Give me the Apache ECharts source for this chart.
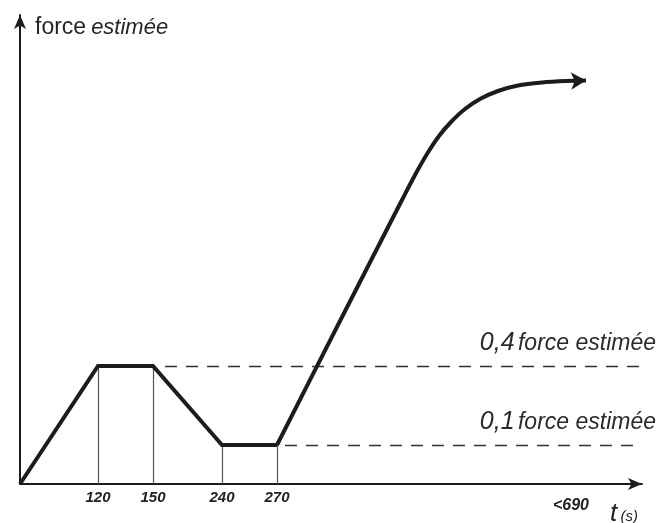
<!DOCTYPE html>
<html>
<head>
<meta charset="utf-8">
<script src="https://cdn.jsdelivr.net/npm/echarts@6/dist/echarts.min.js"></script>
<style>
  html, body { margin: 0; background: #fff; }
  #chart { width: 656px; height: 523px; }
</style>
</head>
<body>
<div id="chart"></div>
<script>
// schematic diagram: both axes are in the figure's own units, not seconds / newtons
const tickTimes = ['120', '150', '240', '270'];
const tickAt = [78, 133, 202, 257];
const endTime = '<690';
const endAt = 551;

const levelText = ['0,4', '0,1'];
const levelAt = [118, 39];
const levelFrom = [145, 265];

// trapezoid
const rampX = [0, 78, 133, 202, 257];
const rampY = [0, 118, 118, 39, 39];
// straight climb then the bend up to the arrow
const curveX = [257, 320, 383, 395, 407, 419, 431, 445, 460, 478, 498, 522, 546, 566];
const curveY = [39, 163, 286, 309, 330, 348, 362, 375, 385, 393, 398.5, 401.5, 403, 403.5];

const FONT = "'Liberation Sans', Arial, sans-serif";
const INK = '#1c1c1c';

const zip = (xs, ys) => xs.map((x, i) => [x, ys[i]]);

const curveData = zip(curveX, curveY).map((p, i, arr) =>
  i === arr.length - 1
    ? { value: p, symbol: 'arrow', symbolSize: [13, 15], symbolRotate: -88 }
    : { value: p, symbol: 'none' }
);

const drops = tickAt.map((x) => [
  { coord: [x, 0] },
  { coord: [x, rampY[rampX.indexOf(x)]] },
]);

const levels = levelAt.map((y, i) => [
  { coord: [levelFrom[i], y] },
  { coord: [622, y] },
]);

const chart = echarts.init(document.getElementById('chart'));

chart.setOption({
  animation: false,
  backgroundColor: '#fff',
  textStyle: { fontFamily: FONT },
  title: {
    left: 30,
    top: 11,
    text: '{a|force} {b|estimée}',
    textStyle: {
      fontWeight: 'normal',
      rich: {
        a: { fontFamily: FONT, fontSize: 23, fontWeight: 'normal', color: '#262626' },
        b: { fontFamily: FONT, fontSize: 22, fontWeight: 'normal', fontStyle: 'italic', color: '#262626' },
      },
    },
  },
  grid: { left: 20, right: 14, top: 15, bottom: 39, outerBoundsMode: 'none', containLabel: false },
  xAxis: {
    type: 'value',
    min: 0,
    max: 622,
    splitLine: { show: false },
    axisTick: { show: false },
    axisLine: {
      onZero: false,
      symbol: ['none', 'arrow'],
      symbolSize: [9, 14],
      lineStyle: { color: INK, width: 2 },
    },
    axisLabel: {
      customValues: tickAt.concat([endAt]),
      margin: 6,
      color: '#222',
      fontSize: 15,
      fontStyle: 'italic',
      fontWeight: 'bold',
      formatter: (v) => {
        const i = tickAt.indexOf(v);
        return i >= 0 ? tickTimes[i] : '{e|' + endTime + '}';
      },
      rich: {
        e: { fontSize: 16, fontStyle: 'italic', fontWeight: 'bold', color: '#222', lineHeight: 31 },
      },
    },
    name: '{t|t} {s|(s)}',
    nameLocation: 'end',
    nameGap: -4,
    nameTextStyle: {
      align: 'right',
      verticalAlign: 'top',
      padding: [17, 0, 0, 0],
      rich: {
        t: { fontSize: 26, fontStyle: 'italic', color: '#222' },
        s: { fontSize: 15, fontStyle: 'italic', color: '#222', padding: [6, 0, 0, 0] },
      },
    },
  },
  yAxis: {
    type: 'value',
    min: 0,
    max: 469,
    splitLine: { show: false },
    axisTick: { show: false },
    axisLabel: { show: false },
    axisLine: {
      onZero: false,
      symbol: ['none', 'arrow'],
      symbolSize: [9, 14],
      lineStyle: { color: INK, width: 2 },
    },
  },
  series: [
    {
      name: 'montée',
      type: 'line',
      data: zip(rampX, rampY),
      symbol: 'none',
      lineStyle: { color: INK, width: 4, join: 'miter' },
      z: 5,
    },
    {
      name: 'courbe',
      type: 'line',
      data: curveData,
      smooth: 0.3,
      showAllSymbol: true,
      itemStyle: { color: INK },
      lineStyle: { color: INK, width: 4 },
      z: 5,
    },
    {
      name: 'repères',
      type: 'line',
      data: [],
      markLine: {
        silent: true,
        symbol: 'none',
        label: { show: false },
        lineStyle: { color: '#555', width: 1.2, type: 'solid' },
        data: drops,
      },
    },
    {
      name: 'niveaux',
      type: 'line',
      data: [],
      markLine: {
        silent: true,
        symbol: 'none',
        lineStyle: { color: '#333', width: 1.3, type: [12, 9] },
        label: {
          show: true,
          position: 'insideEndTop',
          distance: [-14, 10],
          formatter: (p) => '{n|' + levelText[p.dataIndex] + '} {f|force estimée}',
          rich: {
            n: { fontSize: 25, fontStyle: 'italic', color: '#2a2a2a' },
            f: { fontSize: 23, fontStyle: 'italic', color: '#2a2a2a' },
          },
        },
        data: levels,
      },
    },
  ],
});
</script>
</body>
</html>
